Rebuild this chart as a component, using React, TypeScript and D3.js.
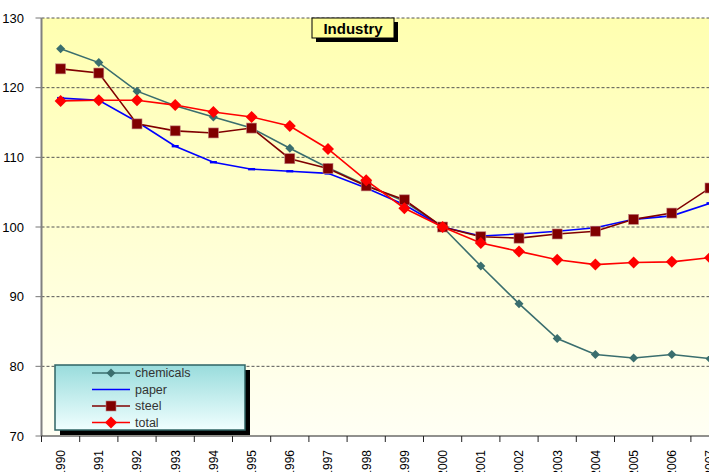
import React from 'react';
import * as d3 from 'd3';

const years = ['1990', '1991', '1992', '1993', '1994', '1995', '1996', '1997', '1998', '1999', '2000', '2001', '2002', '2003', '2004', '2005', '2006', '2007'];
const chemicals = [125.6, 123.6, 119.5, 117.4, 115.8, 114.2, 111.3, 108.5, 106.0, 103.7, 100, 94.4, 89.0, 84.0, 81.7, 81.2, 81.7, 81.1];
const paper = [118.5, 118.2, 115.1, 111.6, 109.3, 108.3, 108.0, 107.7, 105.6, 103.2, 100, 98.7, 99.0, 99.4, 99.9, 101.1, 101.6, 103.4];
const steel = [122.7, 122.1, 114.8, 113.8, 113.5, 114.2, 109.8, 108.4, 105.9, 103.9, 100, 98.6, 98.4, 99.0, 99.4, 101.1, 102.0, 105.6];
const total = [118.1, 118.2, 118.2, 117.5, 116.5, 115.8, 114.5, 111.2, 106.7, 102.7, 100, 97.7, 96.5, 95.3, 94.6, 94.9, 95.0, 95.6];
const yTicks = [70, 80, 90, 100, 110, 120, 130];

const seriesList = [
  { name: 'chemicals', values: chemicals, color: '#3a6e6e', marker: 'smallDiamond' },
  { name: 'paper', values: paper, color: '#0000ff', marker: 'dash' },
  { name: 'steel', values: steel, color: '#800000', marker: 'square' },
  { name: 'total', values: total, color: '#ff0000', marker: 'diamond' },
];

const W = 709;
const H = 472;
const left = 41.5;
const step = 38.2;

const Marker = ({ type, x, y, color }: { type: string; x: number; y: number; color: string }) => {
  if (type === 'square') {
    return <rect x={x - 5} y={y - 5} width={10} height={10} fill={color} stroke="#c08080" strokeWidth={0.6} />;
  }
  if (type === 'diamond') {
    const r = 6;
    return <path d={`M${x},${y - r}L${x + r},${y}L${x},${y + r}L${x - r},${y}Z`} fill={color} />;
  }
  if (type === 'smallDiamond') {
    const r = 4.5;
    return <path d={`M${x},${y - r}L${x + r},${y}L${x},${y + r}L${x - r},${y}Z`} fill={color} />;
  }
  return <rect x={x - 3.5} y={y - 1.2} width={7} height={2.4} fill={color} />;
};

export default function App() {
  const x = d3.scaleBand<string>().domain(years).range([left, left + step * years.length]);
  const y = d3.scaleLinear().domain([70, 130]).range([436, 18]);
  const cx = (d: string) => (x(d) as number) + x.bandwidth() / 2;
  const line = d3.line<number>().x((_, i) => cx(years[i])).y((v) => y(v));
  const plotRight = left + step * years.length;

  const legendX = 55;
  const legendY = 365;
  const legendW = 190;
  const legendH = 65;

  return (
    <svg width={W} height={H} style={{ position: 'absolute', left: 0, top: 0, background: '#fff' }} fontFamily="Arial, 'Liberation Sans', sans-serif">
      <defs>
        <linearGradient id="plotBg" x1="0" y1="0" x2="0" y2="1">
          <stop offset="0" stopColor="#ffffb0" />
          <stop offset="1" stopColor="#fffff4" />
        </linearGradient>
        <linearGradient id="legBg" x1="0" y1="0" x2="0" y2="1">
          <stop offset="0" stopColor="#99dcdc" />
          <stop offset="1" stopColor="#f0ffff" />
        </linearGradient>
      </defs>
      <rect x={left} y={y(130)} width={plotRight - left} height={y(70) - y(130)} fill="url(#plotBg)" />
      {yTicks.slice(1).map((t) => (
        <line key={t} x1={left} x2={plotRight} y1={y(t)} y2={y(t)} stroke="#555" strokeWidth={1} strokeDasharray="3,2" />
      ))}
      {yTicks.map((t) => (
        <g key={t}>
          <line x1={left - 6} x2={left} y1={y(t)} y2={y(t)} stroke="#777" strokeWidth={1} />
          <text x={24} y={y(t)} dy="0.35em" textAnchor="end" fontSize={13} fill="#000">{t}</text>
        </g>
      ))}
      <line x1={left} x2={left} y1={y(130)} y2={y(70)} stroke="#808080" strokeWidth={2} />
      <line x1={left} x2={plotRight} y1={y(70)} y2={y(70)} stroke="#222" strokeWidth={1} />
      {years.map((yr, i) => (
        <line key={yr} x1={left + i * step} x2={left + i * step} y1={y(70)} y2={y(70) + 6} stroke="#222" strokeWidth={1} />
      ))}
      {years.map((yr) => (
        <text key={yr} transform={`translate(${cx(yr) + 4.3},${y(70) + 14}) rotate(-90)`} textAnchor="end" fontSize={12} fill="#000">{yr}</text>
      ))}
      {seriesList.map((s) => (
        <g key={s.name}>
          <path d={line(s.values) as string} fill="none" stroke={s.color} strokeWidth={1.6} />
          {s.values.map((v, i) => (
            <Marker key={i} type={s.marker} x={cx(years[i])} y={y(v)} color={s.color} />
          ))}
        </g>
      ))}
      <g>
        <rect x={312 + 4} y={18 + 4} width={82} height={20} fill="#000" />
        <rect x={312} y={18} width={82} height={20} fill="#ffff99" stroke="#000" strokeWidth={1} />
        <text x={353} y={28.5} dy="0.35em" textAnchor="middle" fontSize={15} fontWeight="bold" fill="#000">Industry</text>
      </g>
      <g>
        <rect x={legendX + 5} y={legendY + 5} width={legendW} height={legendH} fill="#000" />
        <rect x={legendX} y={legendY} width={legendW} height={legendH} fill="url(#legBg)" stroke="#2f6464" strokeWidth={1.5} />
        {seriesList.map((s, i) => {
          const ly = legendY + 8 + i * 16.5;
          return (
            <g key={s.name}>
              <line x1={92} x2={130} y1={ly} y2={ly} stroke={s.color} strokeWidth={1.6} />
              {s.marker !== 'dash' && <Marker type={s.marker} x={111} y={ly} color={s.color} />}
              <text x={135} y={ly} dy="0.35em" fontSize={12.5} fill="#333">{s.name}</text>
            </g>
          );
        })}
      </g>
    </svg>
  );
}
